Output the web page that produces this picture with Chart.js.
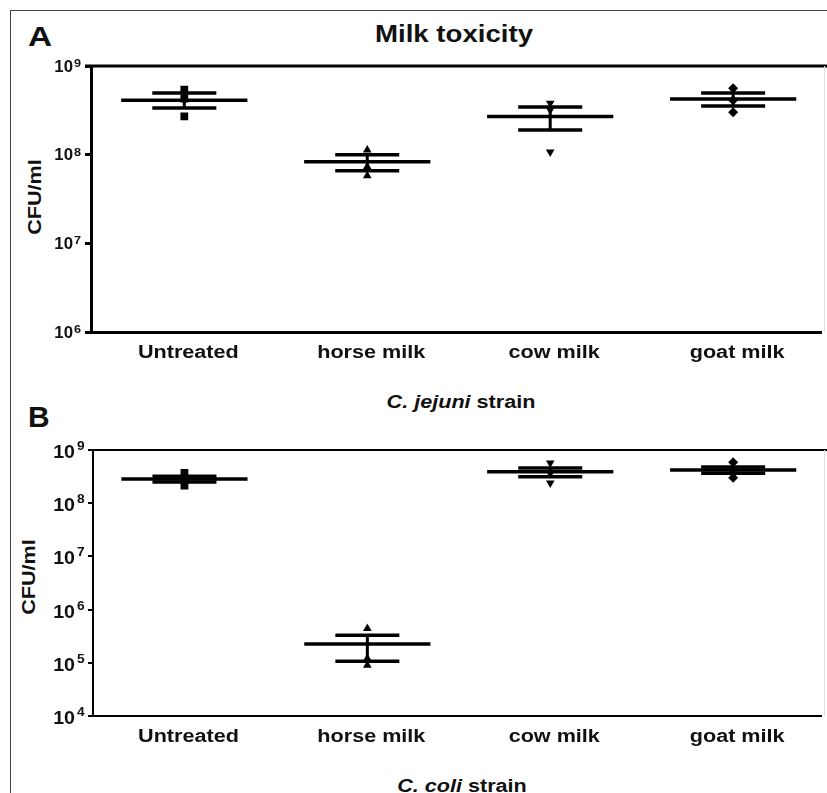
<!DOCTYPE html>
<html>
<head>
<meta charset="utf-8">
<script src="https://cdn.jsdelivr.net/npm/chart.js@4"></script>
<style>
  body { margin: 0; background: #fff; }
  #page { position: relative; width: 827px; height: 793px; overflow: hidden;
          font-family: "Liberation Sans", Arial, sans-serif; font-weight: bold; color: #111; }
  .frame { position: absolute; left: 10px; top: 10px; right: -5px; bottom: -5px;
           border-top: 1px solid #444; border-left: 1px solid #444; }
  .txt { position: absolute; line-height: 1; white-space: nowrap; }
  .mid { transform-origin: center top; transform: translateX(-50%) scaleX(1.2); }
  .ylab { transform-origin: center center; transform: translate(-50%, -50%) rotate(-90deg) scaleX(1.2); }
  canvas { position: absolute; left: 0; }
</style>
</head>
<body>
<div id="page">
  <div class="frame"></div>

  <div class="txt" style="left:28px; top:23px; font-size:28px; transform-origin:left top; transform:scaleX(1.19);">A</div>
  <div class="txt mid" style="left:454px; top:22.5px; font-size:23px;">Milk toxicity</div>
  <div class="txt ylab" style="left:35px; top:197px; font-size:18px;">CFU/ml</div>
  <div class="txt mid" style="left:461px; top:393px; font-size:18px;"><i>C. jejuni</i> strain</div>

  <div class="txt" style="left:28px; top:402.5px; font-size:29px; transform-origin:left top; transform:scaleX(1.03);">B</div>
  <div class="txt ylab" style="left:29px; top:577px; font-size:18px;">CFU/ml</div>
  <div class="txt mid" style="left:462px; top:777px; font-size:18px;"><i>C. coli</i> strain</div>

  <canvas id="chartA" width="827" height="380" style="top:0"></canvas>
  <canvas id="chartB" width="827" height="380" style="top:380px"></canvas>
</div>

<script>
// categories (x axis)
const categories = ['Untreated', 'horse milk', 'cow milk', 'goat milk'];

// A: C. jejuni, CFU/ml
const jejuniMean   = [4.1e8, 8.3e7, 2.7e8, 4.25e8];
const jejuniSemHi  = [4.95e8, 1.0e8, 3.45e8, 4.95e8];
const jejuniSemLo  = [3.35e8, 6.6e7, 1.9e8, 3.55e8];
const jejuniPoints = [
  [5.4e8, 4.3e8, 2.7e8],
  [1.13e8, 7.3e7, 5.8e7],
  [3.8e8, 3.2e8, 1.07e8],
  [5.6e8, 4.1e8, 3.0e8]
];

// B: C. coli, CFU/ml
const coliMean   = [2.85e8, 2.25e5, 3.9e8, 4.2e8];
const coliSemHi  = [3.2e8, 3.3e5, 4.6e8, 4.8e8];
const coliSemLo  = [2.5e8, 1.07e5, 3.15e8, 3.65e8];
const coliPoints = [
  [3.7e8, 2.7e8, 2.15e8],
  [4.4e5, 1.2e5, 9.0e4],
  [5.7e8, 3.6e8, 2.4e8],
  [5.9e8, 3.7e8, 3.0e8]
];

// y tick labels (powers of ten)
const ticksA = [6, 7, 8, 9];
const ticksB = [4, 5, 6, 7, 8, 9];

// marker per group
const markers = [
  { style: 'rect', rotation: 0, radius: 5.5 },
  { style: 'triangle', rotation: 0, radius: 5 },
  { style: 'triangle', rotation: 180, radius: 5 },
  { style: 'rectRot', rotation: 0, radius: 5 }
];

const MEAN_HALF = 0.345;  // half width of mean line, in category units
const SEM_HALF = 0.175;

function stretchText(ctx, text, x, y, sx, align) {
  ctx.save();
  ctx.translate(x, y);
  ctx.scale(sx, 1);
  ctx.textAlign = align;
  ctx.fillText(text, 0, 0);
  ctx.restore();
}

const axisText = {
  id: 'axisText',
  afterDraw(chart, args, p) {
    const { ctx, chartArea, scales } = chart;
    ctx.save();
    // top frame line
    ctx.strokeStyle = '#000';
    ctx.lineWidth = p.frame;
    ctx.beginPath();
    ctx.moveTo(chartArea.left - p.tick, chartArea.top);
    ctx.lineTo(chart.width, chartArea.top);
    ctx.stroke();
    // faint right edge
    ctx.strokeStyle = '#ddd';
    ctx.lineWidth = 1;
    ctx.beginPath();
    ctx.moveTo(824.5, chartArea.top);
    ctx.lineTo(824.5, chartArea.bottom);
    ctx.stroke();

    ctx.fillStyle = '#111';
    ctx.textBaseline = 'alphabetic';
    scales.y.ticks.forEach(t => {
      const y = scales.y.getPixelForValue(t.value);
      const e = Math.round(Math.log10(t.value));
      ctx.font = 'bold ' + p.baseSize + 'px "Liberation Sans", Arial, sans-serif';
      stretchText(ctx, '10', p.baseRight, y + p.baseDy, p.sx, 'right');
      ctx.font = 'bold ' + p.expSize + 'px "Liberation Sans", Arial, sans-serif';
      stretchText(ctx, String(e), p.baseRight + p.expGap, y + p.expDy, 1.1, 'left');
    });

    ctx.font = 'bold 18px "Liberation Sans", Arial, sans-serif';
    categories.forEach((c, i) => {
      stretchText(ctx, c, scales.x.getPixelForValue(i + 1) + 4, p.labelY, 1.2, 'center');
    });
    ctx.restore();
  }
};

function buildDatasets(mean, hi, lo, points, lw) {
  const sets = [];
  const seg = (data, w) => ({
    type: 'line', data: data, borderColor: '#000', borderWidth: w,
    pointRadius: 0, borderCapStyle: 'butt', fill: false
  });
  categories.forEach((c, i) => {
    const x = i + 1;
    const m = markers[i];
    sets.push(seg([{ x: x - MEAN_HALF, y: mean[i] }, { x: x + MEAN_HALF, y: mean[i] }], lw));
    sets.push(seg([{ x: x - SEM_HALF, y: hi[i] }, { x: x + SEM_HALF, y: hi[i] }], lw));
    sets.push(seg([{ x: x - SEM_HALF, y: lo[i] }, { x: x + SEM_HALF, y: lo[i] }], lw));
    sets.push(seg([{ x: x, y: lo[i] }, { x: x, y: hi[i] }], lw - 0.5));
    sets.push({
      type: 'scatter',
      data: points[i].map(v => ({ x: x, y: v })),
      pointStyle: m.style, rotation: m.rotation, pointRadius: m.radius,
      backgroundColor: '#000', borderColor: '#000', borderWidth: 0
    });
  });
  return sets;
}

function makePanel(id, cfg) {
  return new Chart(document.getElementById(id), {
    type: 'scatter',
    data: { datasets: buildDatasets(cfg.mean, cfg.hi, cfg.lo, cfg.points, cfg.lw) },
    options: {
      responsive: false,
      animation: false,
      devicePixelRatio: 1,
      layout: { padding: { left: 50, top: cfg.top, right: 0, bottom: cfg.bottom } },
      plugins: {
        legend: { display: false },
        tooltip: { enabled: false },
        axisText: cfg.text
      },
      scales: {
        x: {
          type: 'linear', min: cfg.xmin, max: 4.483,
          grid: { display: false },
          ticks: { display: false },
          border: { display: true, color: '#000', width: cfg.axis },
          afterFit(s) { s.height = 30; }
        },
        y: {
          type: 'logarithmic', position: 'left',
          min: Math.pow(10, cfg.ticks[0]), max: Math.pow(10, cfg.ticks[cfg.ticks.length - 1]),
          afterBuildTicks(s) { s.ticks = cfg.ticks.map(e => ({ value: Math.pow(10, e) })); },
          grid: { drawOnChartArea: false, drawTicks: true, tickLength: cfg.text.tick,
                  lineWidth: cfg.axis, color: '#000', tickColor: '#000' },
          ticks: { display: false },
          border: { display: true, color: '#000', width: cfg.axis },
          afterFit(s) { s.width = cfg.left - 50; }
        }
      }
    },
    plugins: [axisText]
  });
}

makePanel('chartA', {
  mean: jejuniMean, hi: jejuniSemHi, lo: jejuniSemLo, points: jejuniPoints,
  ticks: ticksA, lw: 3.5, axis: 3, left: 91, top: 66, bottom: 18, xmin: 0.49,
  text: { frame: 3, tick: 6, baseSize: 16, baseRight: 73, baseDy: 5.5, expSize: 11.5,
          expGap: 1, expDy: 1, sx: 1.05, labelY: 358 }
});

makePanel('chartB', {
  mean: coliMean, hi: coliSemHi, lo: coliSemLo, points: coliPoints,
  ticks: ticksB, lw: 3.5, axis: 2, left: 93, top: 70, bottom: 14, xmin: 0.5,
  text: { frame: 2, tick: 5, baseSize: 17.5, baseRight: 75, baseDy: 8, expSize: 12.5,
          expGap: 2, expDy: 0, sx: 1.12, labelY: 362 }
});
</script>
</body>
</html>
